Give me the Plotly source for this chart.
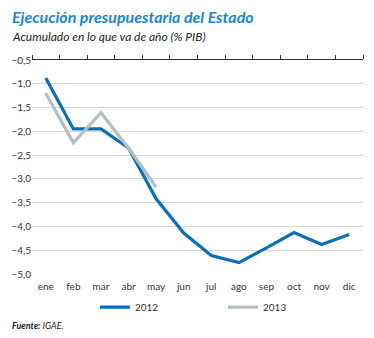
import plotly.graph_objects as go

months = ["ene", "feb", "mar", "abr", "may", "jun", "jul", "ago", "sep", "oct", "nov", "dic"]
v2012 = [-0.88, -1.95, -1.95, -2.35, -3.42, -4.14, -4.61, -4.76, -4.45, -4.13, -4.38, -4.17]
v2013 = [-1.2, -2.24, -1.61, -2.35, -3.17]
yticks = [-0.5, -1.0, -1.5, -2.0, -2.5, -3.0, -3.5, -4.0, -4.5, -5.0]

BLUE = "#0b6fb5"
GRAY = "#b5bfc3"
FONT = "Lato"

fig = go.Figure()
fig.add_trace(go.Scatter(x=months, y=v2012, mode="lines", name="2012", legend="legend",
                         line=dict(color=BLUE, width=3.2)))
fig.add_trace(go.Scatter(x=months[:len(v2013)], y=v2013, mode="lines", name="2013", legend="legend2",
                         line=dict(color=GRAY, width=3.2)))
# invisible trace to anchor top axis
fig.add_trace(go.Scatter(x=[0, 11], y=[-0.5, -0.5], xaxis="x2", mode="lines",
                         line=dict(width=0), showlegend=False, hoverinfo="skip"))

legend_common = dict(orientation="h", xanchor="left", y=-0.155, yanchor="middle",
                     font=dict(size=10, color="#333333"), itemwidth=30,
                     bgcolor="rgba(0,0,0,0)")

fig.update_layout(
    width=374, height=338,
    margin=dict(l=32, r=11, t=60, b=64),
    paper_bgcolor="white", plot_bgcolor="white",
    font=dict(family=FONT, size=10, color="#333333"),
    separators=",.",
    showlegend=True,
    legend=dict(x=0.19, **legend_common),
    legend2=dict(x=0.577, **legend_common),
    xaxis=dict(type="category", categoryorder="array", categoryarray=months,
               range=[-0.5, 11.5], showgrid=False, showline=False, ticks="",
               tickfont=dict(size=10, color="#333333"), ticklabelstandoff=5),
    xaxis2=dict(overlaying="x", side="top", anchor="y", range=[-0.5, 11.5],
                tickmode="array", tickvals=[i - 0.5 for i in range(13)],
                showticklabels=False, ticks="outside", ticklen=4, tickwidth=1,
                tickcolor="#333333", showline=True, linecolor="#333333", linewidth=1,
                showgrid=False, zeroline=False),
    yaxis=dict(range=[-5.0, -0.5], tickmode="array", tickvals=yticks,
               tickformat=".1f", showgrid=True, gridcolor="#d5d8da", gridwidth=1,
               zeroline=False, showline=False, ticks="",
               tickfont=dict(size=10, color="#333333")),
    annotations=[
        dict(text="<b><i>Ejecución presupuestaria del Estado</i></b>", xref="paper", yref="paper",
             x=-0.067, xanchor="left", y=1.205, yanchor="middle", showarrow=False,
             font=dict(family=FONT, size=16, color="#1a86d0")),
        dict(text="<i>Acumulado en lo que va de año (% PIB)</i>", xref="paper", yref="paper",
             x=-0.067, xanchor="left", y=1.11, yanchor="middle", showarrow=False,
             font=dict(family=FONT, size=12, color="#222222")),
        dict(text="<b><i>Fuente:</i></b><i> IGAE.</i>", xref="paper", yref="paper",
             x=-0.067, xanchor="left", y=-0.24, yanchor="middle", showarrow=False,
             font=dict(family=FONT, size=9, color="#222222")),
    ],
)

fig.write_html("out.html")
